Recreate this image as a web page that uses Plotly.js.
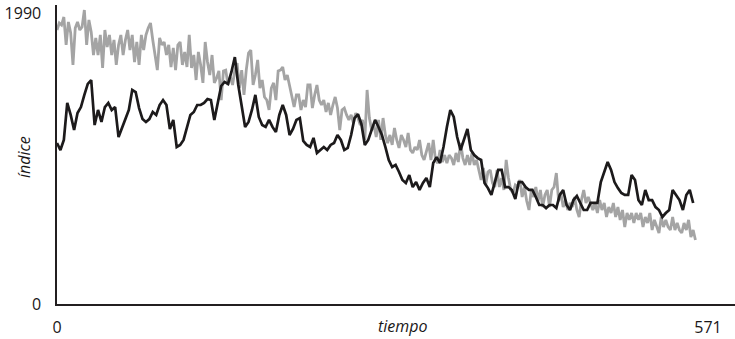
<!DOCTYPE html>
<html>
<head>
<meta charset="utf-8">
<script src="https://cdn.plot.ly/plotly-3.0.1.min.js"></script>
<style>html,body{margin:0;padding:0;background:#fff;}#chart{width:735px;height:339px;}</style>
</head>
<body>
<div id="chart"></div>
<script>
// time step between samples
const grayStep = 2;
const blackStep = 3;

// gray series (índice), sampled every 2 time units from t=0
const grayValues = [
1874,1922,1908,1963,1772,1929,1854,1635,1888,1929,
1874,1895,2011,1772,1943,1861,1703,1820,1703,1840,
1614,1874,1758,1840,1703,1806,1635,1772,1840,1703,
1806,1874,1737,1840,1655,1792,1635,1840,1737,1840,
1888,1922,1806,1689,1600,1820,1772,1792,1703,1772,
1621,1751,1600,1772,1792,1635,1724,1621,1840,1614,
1703,1532,1724,1635,1512,1792,1655,1566,1703,1512,
1546,1594,1395,1594,1600,1498,1553,1498,1600,1648,
1477,1600,1430,1600,1717,1737,1498,1566,1669,1477,
1532,1416,1395,1327,1477,1512,1395,1594,1600,1621,
1532,1566,1498,1430,1347,1430,1430,1327,1395,1347,
1498,1498,1340,1430,1498,1395,1361,1395,1313,1375,
1293,1361,1416,1340,1190,1327,1340,1293,1259,1293,
1238,1306,1272,1224,1259,1122,1464,1272,1190,1224,
1142,1259,1122,1272,1156,1101,1156,1088,1204,1122,
1067,1156,1122,1074,1170,1053,1033,1074,1053,1122,
1019,985,1053,1101,985,1122,985,964,1053,971,
1019,964,1019,998,951,1033,971,1101,998,951,
1019,951,1033,951,985,917,848,930,814,903,
917,828,800,917,800,862,780,985,862,780,
759,814,800,848,732,800,704,643,780,732,
800,704,780,663,746,780,663,780,800,896,
704,759,663,711,643,691,663,732,643,595,
711,780,691,732,691,643,691,622,711,643,
691,595,663,622,691,595,663,575,643,527,
622,575,622,554,622,575,622,527,595,554,
622,506,575,527,486,595,527,575,527,506,
595,506,554,506,486,554,506,575,458,506,438
];

// black series (índice), sampled every 3 time units from t=0
const blackValues = [
1101,1053,1122,1375,1293,1190,1306,1347,1430,1505,
1532,1224,1327,1245,1347,1375,1327,1347,1142,1197,
1265,1327,1464,1450,1340,1265,1245,1265,1313,1293,
1361,1395,1361,1197,1259,1074,1088,1122,1211,1293,
1313,1361,1361,1375,1402,1395,1259,1382,1491,1519,
1505,1587,1689,1498,1361,1211,1245,1327,1430,1279,
1224,1211,1259,1211,1177,1293,1361,1293,1156,1197,
1259,1272,1115,1088,1074,1136,1033,1053,1074,1053,
1088,1101,1156,1122,1053,1067,1156,1272,1299,1231,
1088,1122,1197,1259,1211,1156,1074,985,937,951,
903,848,828,882,800,834,780,828,862,800,
964,1005,964,1074,1211,1327,1279,1142,1053,1122,
1197,1053,1019,998,985,828,793,746,834,917,
917,800,800,780,718,834,834,800,780,780,
732,677,677,656,677,677,656,746,780,677,
643,711,739,691,643,643,691,691,691,834,
903,971,917,834,793,759,746,746,882,848,
711,677,780,711,711,663,643,595,622,643,
780,746,711,643,746,780,691
];

const xTickVals = [0, 571];
const xTickText = ['0', '571'];
const yTickVals = [0, 1990];
const yTickText = ['0', '1990'];
const xTitle = 'tiempo';
const yTitle = 'índice';

const grayX = grayValues.map((_, i) => i * grayStep);
const blackX = blackValues.map((_, i) => i * blackStep);

const font = {family: '"Open Sans", "DejaVu Sans", sans-serif', size: 16, color: '#1a1718'};

const traces = [
  {x: grayX, y: grayValues, type: 'scatter', mode: 'lines',
   line: {color: '#a4a4a4', width: 2.8}, hoverinfo: 'skip'},
  {x: blackX, y: blackValues, type: 'scatter', mode: 'lines',
   line: {color: '#1c1a1b', width: 2.7}, hoverinfo: 'skip'}
];

const layout = {
  width: 735, height: 339,
  margin: {l: 57, r: 0, t: 5, b: 35},
  paper_bgcolor: '#fff', plot_bgcolor: '#fff',
  showlegend: false,
  font: font,
  xaxis: {
    range: [0, 594.7], showgrid: false, zeroline: false,
    showline: true, linecolor: '#231f20', linewidth: 1.6,
    tickvals: xTickVals, ticktext: xTickText, ticks: '',
    ticklabelstandoff: 8, tickfont: font, fixedrange: true
  },
  yaxis: {
    range: [0, 2045], showgrid: false, zeroline: false,
    showline: true, linecolor: '#231f20', linewidth: 1.6,
    tickvals: yTickVals, ticktext: yTickText, ticks: '',
    ticklabelstandoff: 11, tickfont: font, fixedrange: true
  },
  annotations: [
    {text: '<i>' + xTitle + '</i>', xref: 'paper', yref: 'paper',
     x: 0.510, y: -0.0736, xanchor: 'center', yanchor: 'middle',
     showarrow: false, font: font},
    {text: '<i>' + yTitle + '</i>', xref: 'paper', yref: 'paper',
     x: -0.0487, y: 0.4916, xanchor: 'center', yanchor: 'middle',
     textangle: -90, showarrow: false, font: font}
  ]
};

Plotly.newPlot('chart', traces, layout, {displayModeBar: false, staticPlot: true});
</script>
</body>
</html>
